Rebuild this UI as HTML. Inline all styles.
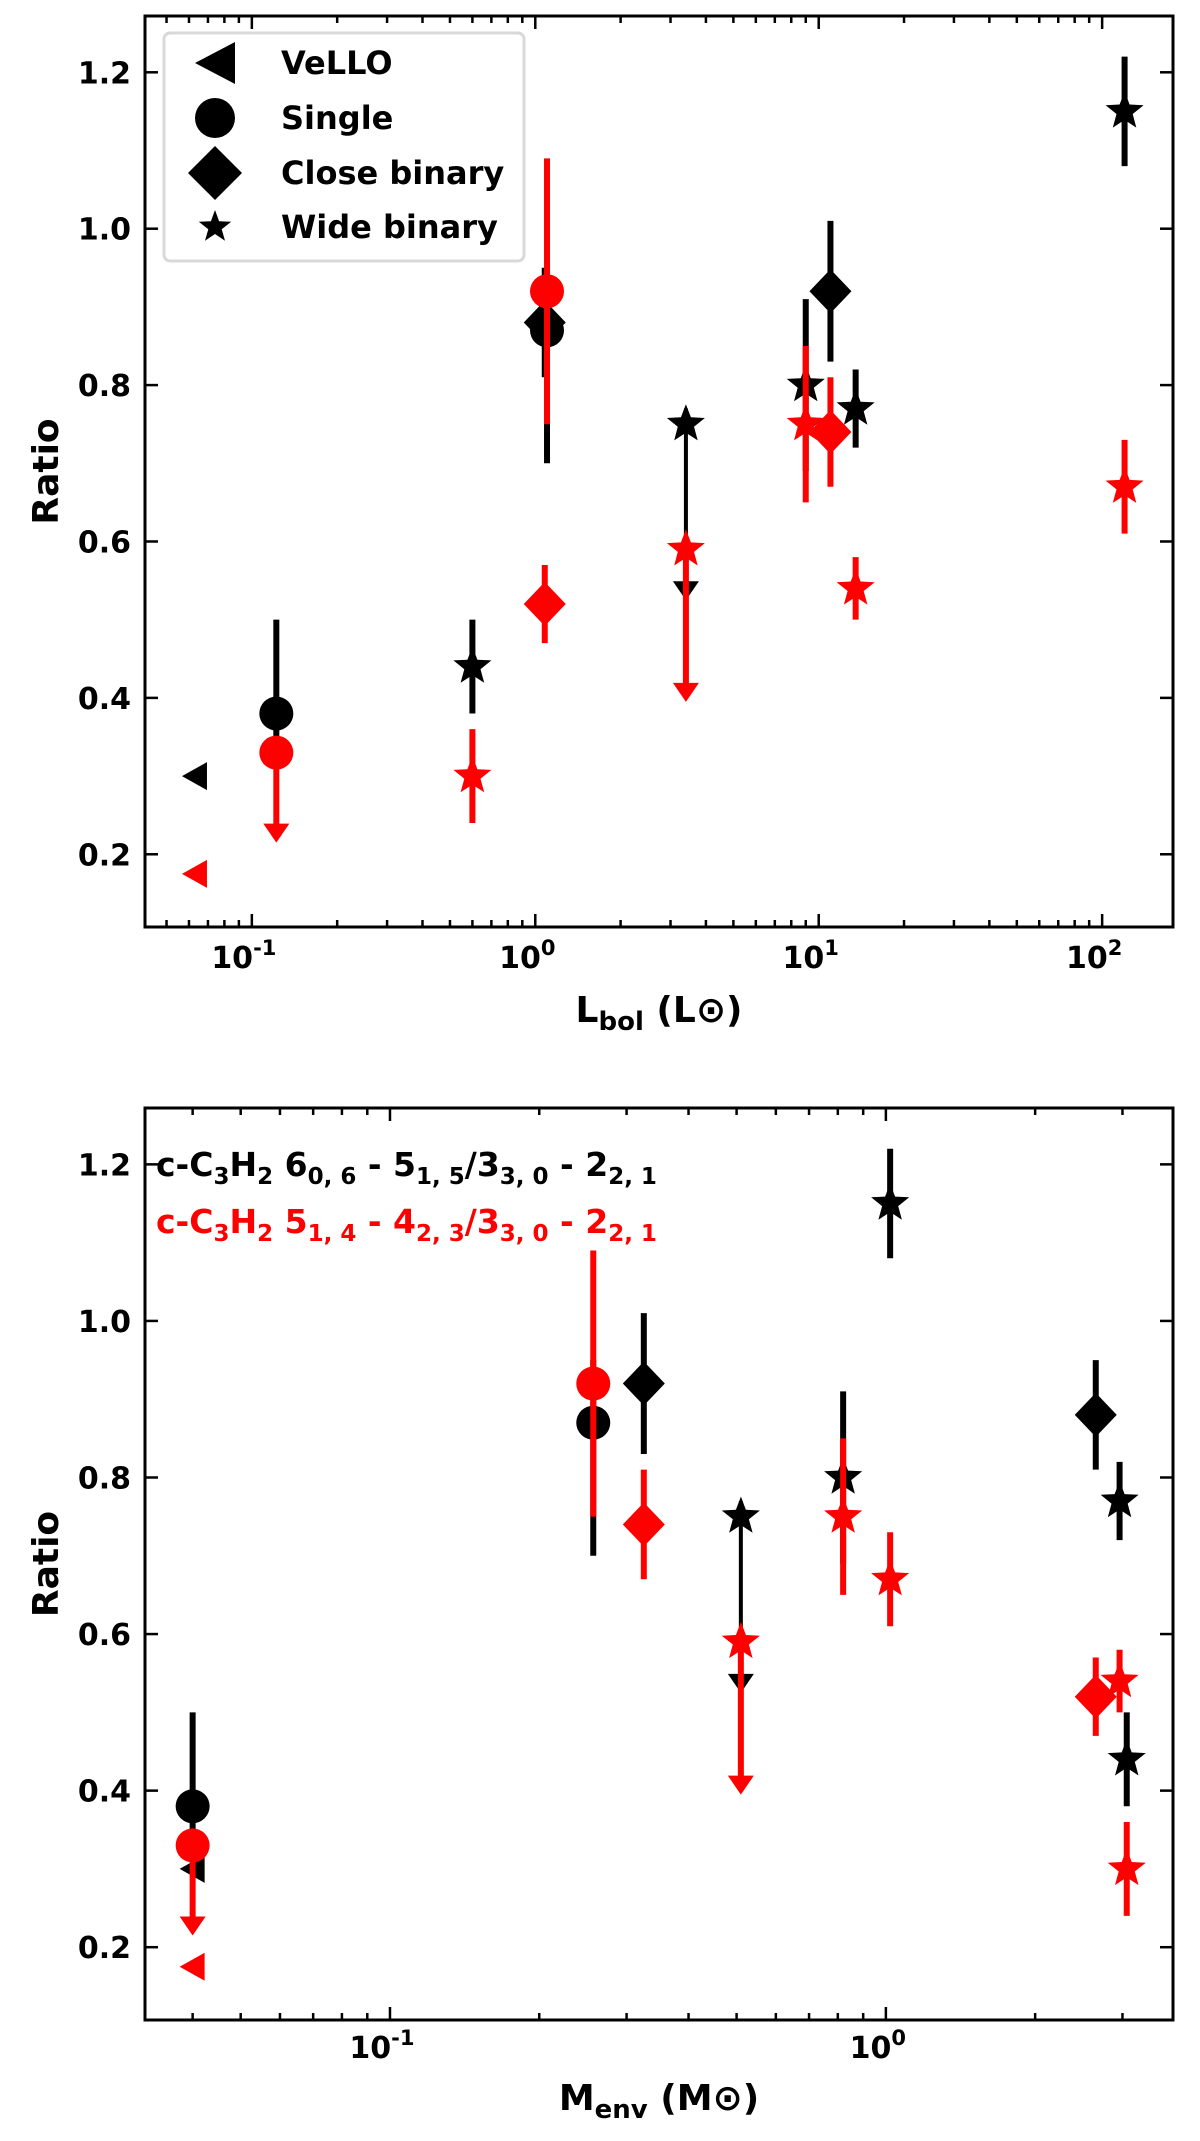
<!DOCTYPE html>
<html><head><meta charset="utf-8"><style>
html,body{margin:0;padding:0;background:#fff;}
svg{display:block;font-family:"DejaVu Sans","Liberation Sans",sans-serif;}
</style></head><body>
<svg id="fig" width="1200" height="2141" viewBox="0 0 1200 2141" xmlns="http://www.w3.org/2000/svg"></svg>
<script>
// ---- data (one entry per source) ----
const sourceType = ['vello','single','single','close','close','wide','wide','wide','wide','wide'];
const lbol       = [0.063, 0.122, 1.1, 1.08, 11, 0.6, 3.4, 9, 13.5, 120];
const menv       = [0.040, 0.040, 0.257, 2.65, 0.325, 3.06, 0.51, 0.82, 2.96, 1.02];
const ratioBlack = [0.30, 0.38, 0.87, 0.88, 0.92, 0.44, 0.75, 0.80, 0.77, 1.15];
const errBlackLo = [null, 0.35, 0.70, 0.81, 0.83, 0.38, 0.53, 0.69, 0.72, 1.08];
const errBlackHi = [null, 0.50, 0.95, 0.95, 1.01, 0.50, 0.77, 0.91, 0.82, 1.22];
const limBlack   = [false,false,false,false,false,false,true,false,false,false];
const ratioRed   = [0.175, 0.33, 0.92, 0.52, 0.74, 0.30, 0.59, 0.75, 0.54, 0.67];
const errRedLo   = [null, 0.22, 0.75, 0.47, 0.67, 0.24, 0.40, 0.65, 0.50, 0.61];
const errRedHi   = [null, 0.33, 1.09, 0.57, 0.81, 0.36, 0.59, 0.85, 0.58, 0.73];
const limRed     = [false,true,false,false,false,false,true,false,false,false];
const yTicks = [0.2,0.4,0.6,0.8,1.0,1.2];
const yTickLabels = ['0.2','0.4','0.6','0.8','1.0','1.2'];

const NS='http://www.w3.org/2000/svg';
const svg=document.getElementById('fig');
function mk(tag,attrs,parent){const e=document.createElementNS(NS,tag);for(const k in attrs)e.setAttribute(k,attrs[k]);(parent||svg).appendChild(e);return e;}

function panel(cfg){
  const {top,bottom,left,right,xmin,xmax,xs,xlabelMain,xlabelSub,xlabelSun,name}=cfg;
  const ymin=0.107,ymax=1.272;
  const X=v=>left+(Math.log10(v)-xmin)/(xmax-xmin)*(right-left);
  const Y=v=>bottom-(v-ymin)/(ymax-ymin)*(bottom-top);
  const g=mk('g',{});
  
  
  const tg=mk('g',{stroke:'#000','stroke-width':2.5},g);
  
  
  yTicks.forEach((t,i)=>{
    const y=Y(t);
    mk('line',{x1:left,x2:left+13,y1:y,y2:y},tg);
    mk('line',{x1:right,x2:right-13,y1:y,y2:y},tg);
    const tl=mk('text',{x:left-14,y:y+11,'text-anchor':'end','font-size':30,'font-weight':'bold',fill:'#000',stroke:'none'},g);
    tl.textContent=yTickLabels[i];
    
    
  });
  for(let d=Math.floor(xmin);d<=Math.ceil(xmax);d++){
    for(let m=1;m<10;m++){
      const lv=d+Math.log10(m);
      if(lv<xmin||lv>xmax)continue;
      const x=X(Math.pow(10,lv)); const L=m===1?13:7;
      mk('line',{x1:x,x2:x,y1:bottom,y2:bottom-L},tg);
      mk('line',{x1:x,x2:x,y1:top,y2:top+L},tg);
      if(m===1){
        const t=mk('text',{x:x-8,y:cfg.tickY,'text-anchor':'middle','font-size':30,'font-weight':'bold',fill:'#000',stroke:'none'},g);
        
        
        t.appendChild(document.createTextNode('10'));
        const s=mk('tspan',{dy:-13,'font-size':21},t); s.textContent=String(d);
      }
    }
  }
  const fr=mk('rect',{x:left,y:top,width:right-left,height:bottom-top,fill:'none',stroke:'#000','stroke-width':3},g);
  
  
  const yl=mk('text',{x:0,y:0,'text-anchor':'middle','font-size':36,'font-weight':'bold',transform:`translate(58,${(top+bottom)/2}) rotate(-90)`},g);
  yl.textContent='Ratio';
  
  
  const xl=mk('text',{x:(left+right)/2,y:cfg.labelY,'text-anchor':'middle','font-size':36,'font-weight':'bold'},g);
  
  
  xl.appendChild(document.createTextNode(xlabelMain));
  const sb=mk('tspan',{dy:8,'font-size':26},xl); sb.textContent=xlabelSub;
  const r=mk('tspan',{dy:-8},xl); r.textContent=' ('+xlabelSun+'\u2299)';
  function marker(type,x,y,col,par){
    let e;
    if(type==='single') e=mk('circle',{cx:x,cy:y,r:17,fill:col},par);
    else if(type==='close') e=mk('polygon',{points:`${x},${y-22} ${x+21},${y} ${x},${y+22} ${x-21},${y}`,fill:col},par);
    else if(type==='vello') e=mk('polygon',{points:`${x-13},${y} ${x+12},${y-14} ${x+12},${y+14}`,fill:col},par);
    else {
      let p=[];for(let k=0;k<10;k++){const a=-Math.PI/2+k*Math.PI/5;const rr=k%2?8.5:20;p.push((x+rr*Math.cos(a)).toFixed(1)+','+(y+rr*Math.sin(a)).toFixed(1));}
      e=mk('polygon',{points:p.join(' '),fill:col},par);
    }
    
    
  }
  function series(vals,lo,hi,lim,col,nm){
    const sg=mk('g',{},g);
    
    
    vals.forEach((v,i)=>{
      const x=X(xs[i]);
      if(lo[i]!==null){
        const w=(lim[i]&&col==='#000')?4:6;
        const eb=mk('line',{x1:x,x2:x,y1:Y(hi[i]),y2:Y(lo[i])+(lim[i]?-2:0),stroke:col,'stroke-width':w},sg);
        
        
        if(lim[i]){
          const yb=Y(lo[i])-15;const yt=Y(lo[i])+4;
          const ah=mk('polygon',{points:`${x-13},${yb} ${x+13},${yb} ${x},${yt}`,fill:col},sg);
          
          
        }
      }
      marker(sourceType[i],x,Y(v),col,sg);
    });
  }
  series(ratioBlack,errBlackLo,errBlackHi,limBlack,'#000','black-series');
  series(ratioRed,errRedLo,errRedHi,limRed,'#ff0000','red-series');
  return {X,Y,g};
}

panel({top:16,bottom:927,left:145,right:1173,xmin:-1.377,xmax:2.25,xs:lbol,xlabelMain:'L',xlabelSub:'bol',xlabelSun:'L',name:'top-panel-lbol',tickY:968,labelY:1022});
panel({top:1108,bottom:2020,left:145,right:1173,xmin:-1.494,xmax:0.579,xs:menv,xlabelMain:'M',xlabelSub:'env',xlabelSun:'M',name:'bottom-panel-menv',tickY:2058,labelY:2110});

// legend
const lg=mk('g',{});


mk('rect',{x:164,y:33,width:360,height:228,rx:6,fill:'#fff','fill-opacity':0.85,stroke:'#d9d9d9','stroke-width':3},lg);
const legTypes=['vello','single','close','wide'];
const legLabels=['VeLLO','Single','Close binary','Wide binary'];
const legY=[63,118,173,227];
legTypes.forEach((t,i)=>{
  const y=legY[i],x=215;let e;
  if(t==='vello') e=mk('polygon',{points:`${x-20},${y} ${x+20},${y-21} ${x+20},${y+21}`,fill:'#000'},lg);
  else if(t==='single') e=mk('circle',{cx:x,cy:y,r:20,fill:'#000'},lg);
  else if(t==='close') e=mk('polygon',{points:`${x},${y-27} ${x+27},${y} ${x},${y+27} ${x-27},${y}`,fill:'#000'},lg);
  else {let p=[];for(let k=0;k<10;k++){const a=-Math.PI/2+k*Math.PI/5;const rr=k%2?7:17;p.push((x+rr*Math.cos(a)).toFixed(1)+','+(y+rr*Math.sin(a)).toFixed(1));}
    e=mk('polygon',{points:p.join(' '),fill:'#000'},lg);}
  
  
  const tx=mk('text',{x:281,y:y+11,'font-size':32,'font-weight':'bold'},lg);
  tx.textContent=legLabels[i];
  
  
});

// annotations bottom panel: [text, isSubscript]
function anno(y,col,parts,nm){
  const t=mk('text',{x:156,y:y,'font-size':33,'font-weight':'bold',fill:col});
  
  
  let sub=false;
  parts.forEach(p=>{
    const a={};
    if(p[1]&&!sub){a.dy=8;}
    if(!p[1]&&sub){a.dy=-8;}
    if(p[1])a['font-size']=23;
    sub=p[1];
    const s=mk('tspan',a,t);s.textContent=p[0];
  });
}
anno(1176,'#000',[['c-C',0],['3',1],['H',0],['2',1],[' 6',0],['0, 6',1],[' - 5',0],['1, 5',1],['/3',0],['3, 0',1],[' - 2',0],['2, 1',1]],'annotation-black');
anno(1233,'#ff0000',[['c-C',0],['3',1],['H',0],['2',1],[' 5',0],['1, 4',1],[' - 4',0],['2, 3',1],['/3',0],['3, 0',1],[' - 2',0],['2, 1',1]],'annotation-red');
</script>
</body></html>
